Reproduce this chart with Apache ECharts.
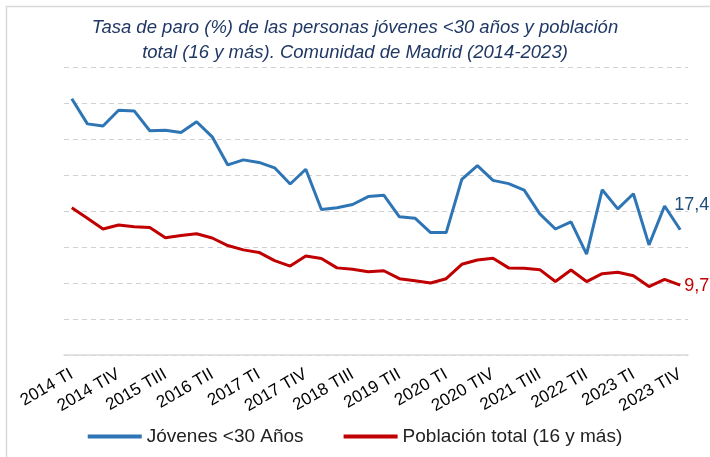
<!DOCTYPE html>
<html><head><meta charset="utf-8">
<script src="https://cdn.jsdelivr.net/npm/echarts@6/dist/echarts.min.js"></script>
<style>html,body{margin:0;padding:0;background:#fff}#c{width:710px;height:457px}</style>
</head><body><div id="c"></div>
<script>
var categories = [];
var years = [2014,2015,2016,2017,2018,2019,2020,2021,2022,2023];
var quarters = ['TI','TII','TIII','TIV'];
years.forEach(function(y){ quarters.forEach(function(q){ categories.push(y + ' ' + q); }); });

var jovenes = [35.6,32.1,31.8,34.0,33.9,31.15,31.2,30.9,32.4,30.3,
  26.4,27.1,26.75,26.0,23.75,25.8,20.2,20.45,20.9,22.0,
  22.2,19.2,19.0,17.0,17.0,24.4,26.3,24.25,23.8,22.9,
  19.6,17.5,18.5,14.0,22.95,20.3,22.4,15.3,20.7,17.4];
var total = [20.45,19.0,17.5,18.05,17.8,17.7,16.3,16.6,16.85,16.25,
  15.2,14.6,14.25,13.1,12.35,13.75,13.4,12.1,11.9,11.55,
  11.7,10.6,10.3,10.0,10.6,12.6,13.2,13.45,12.1,12.05,
  11.85,10.2,11.8,10.2,11.3,11.5,11.0,9.5,10.5,9.7];

var seriesNames = ['Jóvenes <30 Años', 'Población total (16 y más)'];
var titleText = 'Tasa de paro (%) de las personas jóvenes <30 años y población\ntotal (16 y más). Comunidad de Madrid (2014-2023)';

function fmt(v){ return String(v).replace('.', ','); }

var chart = echarts.init(document.getElementById('c'));
chart.setOption({
  animation: false,
  textStyle: { fontFamily: 'Liberation Sans' },
  graphic: [{ type: 'rect', left: 4, top: 4, shape: { width: 800, height: 600 }, style: { fill: 'none', stroke: '#d9d9d9', lineWidth: 1.5 }, silent: true }],
  title: {
    text: titleText, left: 'center', top: 10,
    textStyle: { fontFamily: 'Liberation Sans', fontStyle: 'italic', fontWeight: 'normal', fontSize: 18.5, lineHeight: 25, color: '#1F3864' }
  },
  legend: {
    top: 422, left: 'center', itemGap: 40, itemWidth: 54, itemHeight: 4,
    icon: 'rect',
    textStyle: { fontSize: 19, color: '#222', fontFamily: 'Liberation Sans' },
    data: seriesNames
  },
  grid: { left: 64, right: 22, top: 67, bottom: 102 },
  xAxis: {
    type: 'category', data: categories, boundaryGap: true,
    axisLine: { lineStyle: { color: '#d9d9d9', width: 1.5 } },
    axisTick: { show: false },
    axisLabel: { interval: 2, rotate: 30, fontSize: 17, color: '#000', margin: 18 }
  },
  yAxis: {
    type: 'value', min: 0, max: 40, interval: 5,
    axisLabel: { show: false }, axisLine: { show: false }, axisTick: { show: false },
    splitLine: { lineStyle: { color: '#d0d0d0', type: [5, 4], width: 1 } }
  },
  series: [
    { name: seriesNames[0], type: 'line', data: jovenes, symbol: 'none',
      lineStyle: { color: '#2E75B6', width: 3 }, itemStyle: { color: '#2E75B6' },
      endLabel: { show: true, formatter: function(p){ return fmt(p.value); }, color: '#1F4E79', fontSize: 18, offset: [-14, -25] } },
    { name: seriesNames[1], type: 'line', data: total, symbol: 'none',
      lineStyle: { color: '#C00000', width: 3 }, itemStyle: { color: '#C00000' },
      endLabel: { show: true, formatter: function(p){ return fmt(p.value); }, color: '#C00000', fontSize: 18, offset: [-4, 1] } }
  ]
});
</script></body></html>
